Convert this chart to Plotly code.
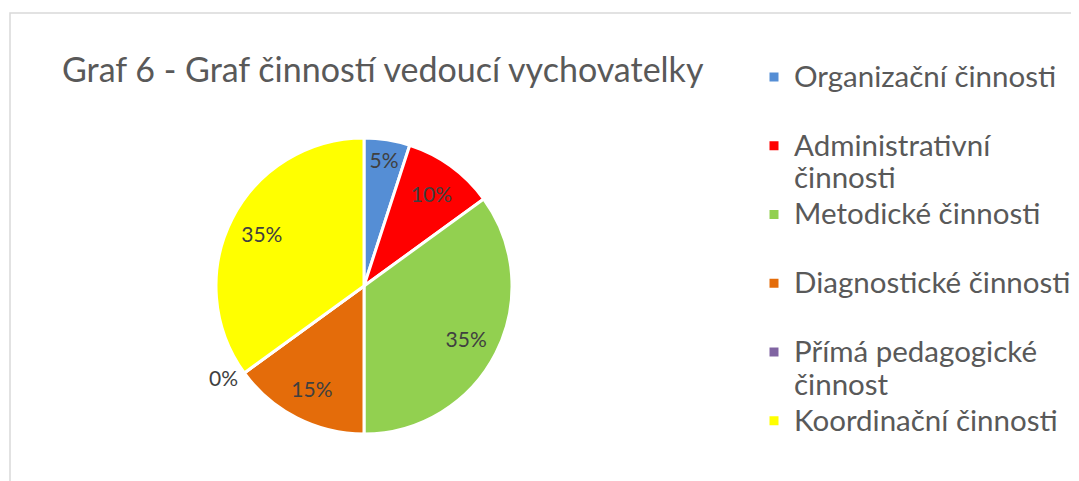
import plotly.graph_objects as go

categories = [
    "Organizační činnosti",
    "Administrativní<br>činnosti",
    "Metodické činnosti",
    "Diagnostické činnosti",
    "Přímá pedagogické<br>činnost",
    "Koordinační činnosti",
]
values = [5, 10, 35, 15, 0, 35]
colors = ["#558ED5", "#FF0000", "#92D050", "#E46C0A", "#8064A2", "#FFFF00"]
title_text = "Graf 6 - Graf činností vedoucí vychovatelky"

W, H = 1079, 481
OFF = 8  # page body margin
cx, cy, r = 364 - OFF, 286 - OFF, 148
dom = dict(x=[(cx - r) / W, (cx + r) / W], y=[1 - (cy + r) / H, 1 - (cy - r) / H])

legend_names = []
for c in categories:
    parts = c.split("<br>")
    txt = "<br>".join("<span style='font-size:29.5px'>%s</span>" % p for p in parts)
    if len(parts) == 1:
        txt += "<br> "
    legend_names.append(txt)

textpos = ["outside" if v == 0 else "inside" for v in values]

# coloured pie (slices + legend)
base = go.Pie(
    labels=legend_names,
    values=values,
    sort=False,
    direction="clockwise",
    rotation=0,
    marker=dict(colors=colors, line=dict(color="white", width=3)),
    textinfo="none",
    domain=dom,
    showlegend=True,
    hoverinfo="skip",
)

# transparent ring carrying the data labels
labels_ring = go.Pie(
    labels=legend_names,
    values=values,
    sort=False,
    direction="clockwise",
    rotation=0,
    hole=0.55,
    marker=dict(colors=["rgba(0,0,0,0)"] * len(values), line=dict(width=0)),
    texttemplate="%{percent:.0%}",
    textposition=textpos,
    insidetextorientation="horizontal",
    textfont=dict(family="Lato", size=21, color="#404040"),
    domain=dom,
    showlegend=False,
    hoverinfo="label+percent",
)

fig = go.Figure([base, labels_ring])

fig.update_layout(
    width=W,
    height=H,
    margin=dict(l=0, r=0, t=0, b=0),
    paper_bgcolor="white",
    plot_bgcolor="white",
    title=dict(
        text=title_text,
        font=dict(family="Lato", size=34, color="#595959"),
        x=(62 - OFF) / W,
        xanchor="left",
        y=1 - (70 - OFF) / H,
        yanchor="middle",
    ),
    legend=dict(
        x=(754 - OFF) / W,
        xanchor="left",
        y=1 - (54 - OFF) / H,
        yanchor="top",
        font=dict(family="Lato", size=25.3, color="#595959"),
        valign="top",
        traceorder="normal",
    ),
    shapes=[
        dict(type="rect", xref="paper", yref="paper", x0=(10 - OFF) / W, x1=1.01, y0=-0.02,
             y1=1 - (13 - OFF) / H,
             line=dict(color="#D9D9D9", width=1.5), fillcolor="rgba(0,0,0,0)", layer="below")
    ],
)

fig.write_html("out.html")
